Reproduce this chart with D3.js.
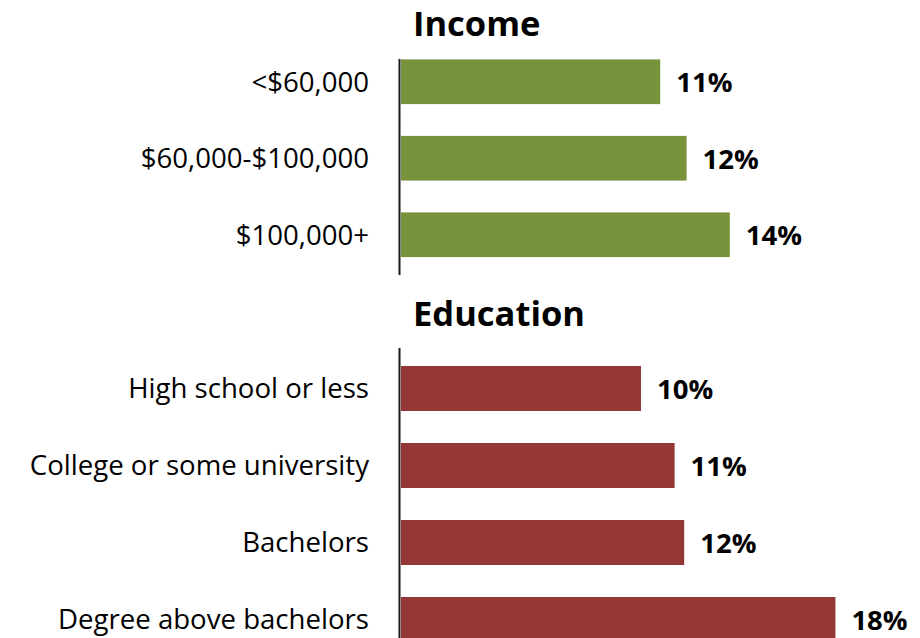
<!DOCTYPE html>
<html>
<head>
<meta charset="utf-8">
<script src="https://cdn.jsdelivr.net/npm/d3@7"></script>
<style>
  html, body { margin: 0; padding: 0; background: #ffffff; }
  svg { display: block; font-family: "Open Sans", "Liberation Sans", sans-serif; }
</style>
</head>
<body>
<svg id="chart" width="920" height="638"></svg>
<script>
// ---- Data ----
const incomeCategories = ["<$60,000", "$60,000-$100,000", "$100,000+"];
const incomeValues = [10.8, 11.9, 13.7];
const incomeLabels = ["11%", "12%", "14%"];

const educationCategories = ["High school or less", "College or some university", "Bachelors", "Degree above bachelors"];
const educationValues = [10.0, 11.4, 11.8, 18.1];
const educationLabels = ["10%", "11%", "12%", "18%"];

const panelTitles = ["Income", "Education"];
const panelColors = ["#77933C", "#953735"];

// ---- Layout ----
const svg = d3.select("#chart");
const axisX = 400;
const x = d3.scaleLinear().domain([0, 20]).range([axisX + 1, axisX + 1 + 480]);

const panels = [
  { title: panelTitles[0], cats: incomeCategories, vals: incomeValues, labels: incomeLabels,
    color: panelColors[0], range: [43.5, 273], lineTop: 59, lineBottom: 275, titleBaseline: 36 },
  { title: panelTitles[1], cats: educationCategories, vals: educationValues, labels: educationLabels,
    color: panelColors[1], range: [350, 658], lineTop: 348, lineBottom: 640, titleBaseline: 326 }
];

panels.forEach(p => {
  const y = d3.scaleBand().domain(p.cats).range(p.range)
    .paddingInner(0.4156).paddingOuter(0.2078);

  const g = svg.append("g");

  // bars
  g.selectAll("rect.bar").data(p.vals).join("rect")
    .attr("class", "bar")
    .attr("x", x(0))
    .attr("y", (d, i) => y(p.cats[i]))
    .attr("width", d => x(d) - x(0))
    .attr("height", y.bandwidth())
    .attr("fill", p.color);

  // value labels
  g.selectAll("text.val").data(p.vals).join("text")
    .attr("class", "val")
    .attr("x", d => x(d) + 16)
    .attr("y", (d, i) => y(p.cats[i]) + y.bandwidth() / 2)
    .attr("dy", "0.38em")
    .attr("font-size", 27.5)
    .attr("font-weight", "bold")
    .attr("fill", "#000")
    .text((d, i) => p.labels[i]);

  // category axis
  const axis = d3.axisLeft(y).tickSize(0).tickPadding(31);
  const ag = g.append("g").attr("transform", `translate(${axisX},0)`).call(axis);
  ag.select(".domain").remove();
  ag.selectAll("text")
    .attr("font-size", 27.6)
    .attr("font-family", "'Open Sans', 'Liberation Sans', sans-serif")
    .attr("fill", "#000")
    .attr("dy", "0.36em");

  // axis line
  g.append("line")
    .attr("x1", axisX - 0.5).attr("x2", axisX - 0.5)
    .attr("y1", p.lineTop).attr("y2", p.lineBottom)
    .attr("stroke", "#1a1a1a").attr("stroke-width", 2);

  // title
  g.append("text")
    .attr("x", 413)
    .attr("y", p.titleBaseline)
    .attr("font-size", 34.5)
    .attr("font-weight", "bold")
    .attr("fill", "#000")
    .text(p.title);
});
</script>
</body>
</html>
